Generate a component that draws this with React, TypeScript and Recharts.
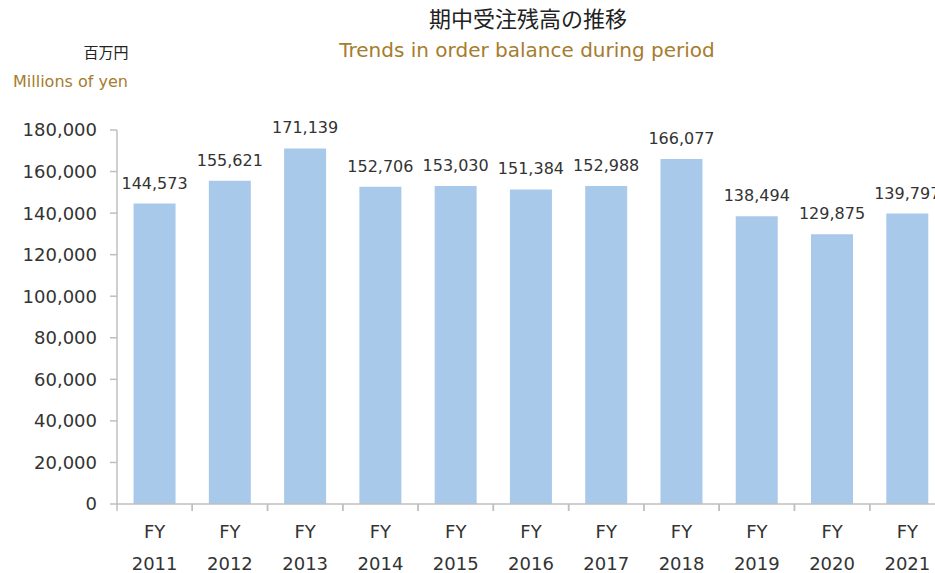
import React from 'react';
import { BarChart, Bar, XAxis, YAxis, LabelList } from 'recharts';

const years = ['2011', '2012', '2013', '2014', '2015', '2016', '2017', '2018', '2019', '2020', '2021'];
const orderBalance = [144573, 155621, 171139, 152706, 153030, 151384, 152988, 166077, 138494, 129875, 139797];
const yTicks = [0, 20000, 40000, 60000, 80000, 100000, 120000, 140000, 160000, 180000];

const data = years.map((year, i) => ({ year, value: orderBalance[i] }));

const CHART_W = 945;
const CHART_H = 573;
const Y_AXIS_W = 117;
const band = (CHART_W - Y_AXIS_W) / years.length;

const FONT = '"DejaVu Sans", Verdana, sans-serif';
const TEXT = '#333333';
const AXIS = '#bfbfbf';
const GOLD = '#a67c2e';

const fmt = (v: number) => v.toLocaleString('en-US');

// two-line category label, with tick marks on the category boundaries (Excel style)
const YearTick = (props: any) => {
  const { x, y, payload } = props;
  const left = x - band / 2;
  return (
    <g>
      <line x1={left} x2={left} y1={y} y2={y + 7} stroke={AXIS} strokeWidth={1.5} />
      <line x1={left + band} x2={left + band} y1={y} y2={y + 7} stroke={AXIS} strokeWidth={1.5} />
      <text x={x} y={y} textAnchor="middle" fill={TEXT} fontSize={18} fontFamily={FONT}>
        <tspan x={x} dy={34}>FY</tspan>
        <tspan x={x} dy={32}>{payload.value}</tspan>
      </text>
    </g>
  );
};

export default function App() {
  return (
    <div style={{ position: 'fixed', left: 0, top: 0, width: 935, height: 573, overflow: 'hidden', background: '#fff' }}>
      <div style={{ position: 'absolute', left: 528, top: 6, transform: 'translateX(-50%)', whiteSpace: 'nowrap', fontFamily: '"Noto Sans CJK JP", sans-serif', fontSize: 22, lineHeight: '22px', color: '#222' }}>
        期中受注残高の推移
      </div>
      <div style={{ position: 'absolute', left: 527, top: 40, transform: 'translateX(-50%)', whiteSpace: 'nowrap', fontFamily: FONT, fontSize: 20, lineHeight: '20px', color: GOLD }}>
        Trends in order balance during period
      </div>
      <div style={{ position: 'absolute', left: 106, top: 44, transform: 'translateX(-50%)', whiteSpace: 'nowrap', fontFamily: '"Noto Sans CJK JP", sans-serif', fontSize: 15, lineHeight: '16px', color: '#222' }}>
        百万円
      </div>
      <div style={{ position: 'absolute', left: 13, top: 74, whiteSpace: 'nowrap', fontFamily: FONT, fontSize: 16, lineHeight: '16px', color: GOLD }}>
        Millions of yen
      </div>
      <BarChart
        width={CHART_W}
        height={CHART_H}
        data={data}
        margin={{ top: 130, right: 0, bottom: 0, left: 0 }}
        barCategoryGap="22%"
        style={{ position: 'absolute', left: 0, top: 0 }}
      >
        <XAxis
          dataKey="year"
          height={69}
          tickSize={0}
          tickMargin={0}
          interval={0}
          stroke={AXIS}
          strokeWidth={1.5}
          tick={<YearTick />}
        />
        <YAxis
          width={Y_AXIS_W}
          domain={[0, 180000]}
          ticks={yTicks}
          interval={0}
          tickSize={7}
          tickMargin={13}
          stroke={AXIS}
          strokeWidth={1.5}
          tickFormatter={fmt}
          tick={{ fill: TEXT, fontSize: 18, fontFamily: FONT }}
        />
        <Bar dataKey="value" fill="#a8c9ea" isAnimationActive={false}>
          <LabelList dataKey="value" position="top" offset={15} formatter={fmt} fill={TEXT} fontSize={16} fontFamily={FONT} />
        </Bar>
      </BarChart>
    </div>
  );
}
